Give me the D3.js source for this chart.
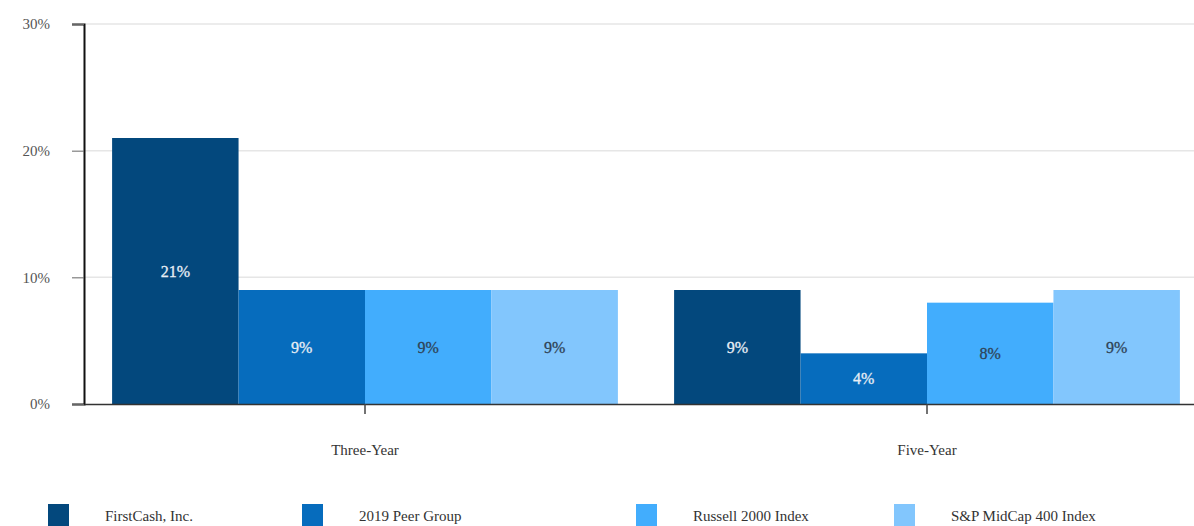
<!DOCTYPE html>
<html>
<head>
<meta charset="utf-8">
<script src="https://cdn.jsdelivr.net/npm/d3@7"></script>
<style>
  body { margin: 0; background: #fff; }
  svg { display: block; font-family: "Liberation Serif", "DejaVu Serif", serif; }
</style>
</head>
<body>
<svg id="chart"></svg>
<script>
const width = 1194, height = 526;
const margin = { top: 24, right: -14, bottom: 122, left: 84 };
const plotWidth = width - margin.left - margin.right;
const plotHeight = height - margin.top - margin.bottom;

// Data
const periods = ["Three-Year", "Five-Year"];
const seriesNames = ["FirstCash, Inc.", "2019 Peer Group", "Russell 2000 Index", "S&P MidCap 400 Index"];
const firstCash = [21, 9];
const peerGroup = [9, 4];
const russell2000 = [9, 8];
const midCap400 = [9, 9];
const yTicks = [0, 10, 20, 30];

const seriesValues = [firstCash, peerGroup, russell2000, midCap400];
const colors = ["#03487d", "#066cbd", "#42adfd", "#82c6fd"];
const labelColors = ["#e8eef5", "#e8eef5", "#2f4356", "#2f4356"];

const rows = [];
periods.forEach((p, i) => {
  seriesNames.forEach((s, j) => rows.push({ period: p, series: s, j, value: seriesValues[j][i] }));
});

const svg = d3.select("#chart")
  .attr("width", width)
  .attr("height", height);

const g = svg.append("g")
  .attr("transform", `translate(${margin.left},${margin.top})`);

// Scales
const x0 = d3.scaleBand().domain(periods).range([0, plotWidth]).paddingInner(0.1).paddingOuter(0.05);
const x0Outer = d3.scaleBand().domain(periods).range([0, plotWidth]);
const x1 = d3.scaleBand().domain(seriesNames).range([0, x0.bandwidth()]);
const y = d3.scaleLinear().domain([0, 30]).range([plotHeight, 0]);

// Gridlines
g.append("g")
  .selectAll("line")
  .data(yTicks.filter(d => d > 0))
  .join("line")
  .attr("x1", 0)
  .attr("x2", width)
  .attr("y1", d => y(d))
  .attr("y2", d => y(d))
  .attr("stroke", "#e6e6e6")
  .attr("stroke-width", 1.5);

// Bars
const bars = g.append("g")
  .selectAll("g")
  .data(rows)
  .join("g")
  .attr("transform", d => `translate(${x0(d.period) + x1(d.series)},0)`);

bars.append("rect")
  .attr("x", 0)
  .attr("y", d => y(d.value))
  .attr("width", x1.bandwidth())
  .attr("height", d => y(0) - y(d.value))
  .attr("fill", d => colors[d.j]);

bars.append("text")
  .attr("x", x1.bandwidth() / 2)
  .attr("y", d => (y(d.value) + y(0)) / 2)
  .attr("dy", "0.35em")
  .attr("text-anchor", "middle")
  .attr("font-family", "Liberation Serif, serif")
  .attr("font-size", 16)
  .attr("fill", d => labelColors[d.j])
  .attr("stroke", d => labelColors[d.j])
  .attr("stroke-width", 0.3)
  .text(d => d.value + "%");

// Y axis
const yAxis = g.append("g")
  .call(d3.axisLeft(y).tickValues(yTicks).tickFormat(d => d + "%").tickSize(12).tickPadding(22));
yAxis.select(".domain").attr("stroke", "#111").attr("stroke-width", 2);
yAxis.selectAll(".tick line").attr("stroke", "#666");
yAxis.selectAll(".tick text")
  .attr("font-family", "Liberation Serif, serif")
  .attr("font-size", 15)
  .attr("fill", "#555");

// X axis
const xAxis = g.append("g")
  .attr("transform", `translate(0,${plotHeight})`)
  .call(d3.axisBottom(x0Outer).tickSize(10).tickSizeOuter(0).tickPadding(30));
xAxis.select(".domain").attr("stroke", "#333").attr("stroke-width", 1.5);
xAxis.selectAll(".tick line").attr("stroke", "#444").attr("stroke-width", 1.5);
xAxis.selectAll(".tick text")
  .attr("font-family", "Liberation Serif, serif")
  .attr("font-size", 15)
  .attr("fill", "#333");

// Legend
const legendX = [48, 302, 636, 894];
const legend = svg.append("g")
  .selectAll("g")
  .data(seriesNames)
  .join("g")
  .attr("transform", (d, i) => `translate(${legendX[i]},504)`);

legend.append("rect")
  .attr("width", 21)
  .attr("height", 22)
  .attr("fill", (d, i) => colors[i]);

legend.append("text")
  .attr("x", 57)
  .attr("y", 12)
  .attr("dy", "0.35em")
  .attr("font-family", "Liberation Serif, serif")
  .attr("font-size", 15)
  .attr("fill", "#333")
  .text(d => d);
</script>
</body>
</html>
